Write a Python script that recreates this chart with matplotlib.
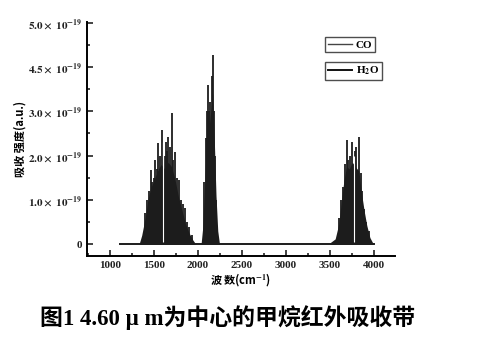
import numpy as np
import matplotlib
matplotlib.use("Agg")
import matplotlib.pyplot as plt
from matplotlib.lines import Line2D
from matplotlib.ticker import MultipleLocator

plt.rcParams['font.family'] = ['Liberation Serif', 'Noto Sans CJK SC', 'DejaVu Sans']
plt.rcParams['mathtext.fontset'] = 'stix'
plt.rcParams['mathtext.default'] = 'bf'

# -----------------------------
# data (wavenumber cm^-1, intensity in tick units)
# -----------------------------
# solid envelope under the lines
env1_x = [1330, 1360, 1400, 1430, 1460, 1500, 1540, 1580, 1620, 1660, 1700, 1740, 1780, 1820, 1860, 1900, 1940, 1975]
env1_y = [0, 0.2, 0.6, 1.0, 1.25, 1.45, 1.65, 1.8, 1.7, 1.85, 1.75, 1.45, 1.05, 0.75, 0.45, 0.25, 0.1, 0]
env2_x = [2035, 2055, 2075, 2095, 2110, 2130, 2150, 2167, 2185, 2205, 2225, 2245]
env2_y = [0, 0.4, 1.3, 2.3, 2.9, 2.7, 3.1, 3.4, 2.4, 1.1, 0.3, 0]
env3_x = [3500, 3560, 3600, 3630, 3660, 3690, 3720, 3755, 3790, 3830, 3860, 3890, 3920, 3955, 3995]
env3_y = [0.03, 0.12, 0.45, 0.95, 1.45, 1.75, 1.7, 1.85, 1.75, 1.65, 1.15, 0.75, 0.42, 0.15, 0]

# individual absorption lines (position, height)
line1_x = [1400, 1420, 1440, 1462, 1480, 1495, 1511, 1530, 1549, 1565, 1587, 1620, 1636, 1650, 1663, 1680,
           1700, 1720, 1739, 1760, 1788, 1810, 1830, 1852, 1875, 1901, 1930]
line1_y = [0.7, 1.0, 1.2, 1.67, 1.4, 1.5, 1.9, 1.7, 2.28, 2.0, 2.58, 2.0, 2.31, 2.1, 2.43, 2.2,
           2.96, 1.9, 2.09, 1.5, 1.45, 1.0, 0.9, 0.81, 0.5, 0.39, 0.2]
line2_x = [2070, 2090, 2100, 2110, 2125, 2140, 2155, 2167, 2180, 2195, 2210]
line2_y = [1.4, 2.4, 3.0, 3.6, 3.0, 3.2, 3.8, 4.28, 3.0, 2.0, 1.0]
line3_x = [3600, 3630, 3650, 3670, 3689, 3710, 3730, 3757, 3780, 3800, 3833, 3850, 3870, 3890, 3910, 3940]
line3_y = [0.6, 1.0, 1.3, 1.8, 2.35, 1.9, 2.0, 2.31, 2.1, 2.2, 2.43, 1.6, 1.2, 0.8, 0.5, 0.3]

# thin white gaps visible in the bands
gap_x = [1605, 3773]
gap_y = [2.3, 2.0]

baseline_x = [1114, 4000]

x_ticks = [1000, 1500, 2000, 2500, 3000, 3500, 4000]
y_ticks = [0, 1, 2, 3, 4, 5]
y_labels = ['0', r'$1.0\times\ 10^{-19}$', r'$2.0\times\ 10^{-19}$', r'$3.0\times\ 10^{-19}$',
            r'$4.5\times\ 10^{-19}$', r'$5.0\times\ 10^{-19}$']

# -----------------------------
# plot
# -----------------------------
fig = plt.figure(figsize=(4.87, 3.42), dpi=100)
ax = fig.add_axes([0.179, 0.251, 0.632, 0.685])

dark = '#1c1c1c'
ax.plot(baseline_x, [0, 0], color=dark, lw=1.4, zorder=1)
for ex, ey in [(env1_x, env1_y), (env2_x, env2_y), (env3_x, env3_y)]:
    ax.fill_between(ex, 0, ey, color=dark, lw=0, zorder=2)
for lx, ly in [(line1_x, line1_y), (line2_x, line2_y), (line3_x, line3_y)]:
    ax.vlines(lx, 0, ly, color=dark, lw=1.3, zorder=3)
ax.vlines(gap_x, 0.05, gap_y, color='white', lw=0.8, zorder=4)

ax.set_xlim(740, 4240)
ax.set_ylim(-0.27, 5.02)
ax.set_xticks(x_ticks)
ax.set_yticks(y_ticks)
ax.set_yticklabels(y_labels)
ax.xaxis.set_minor_locator(MultipleLocator(250))
ax.yaxis.set_minor_locator(MultipleLocator(0.5))
ax.tick_params(which='both', direction='in', labelsize=8, width=1.2, colors='#222')
ax.tick_params(which='major', length=4)
ax.tick_params(which='minor', length=2.5)
for lab in ax.get_xticklabels() + ax.get_yticklabels():
    lab.set_fontweight('bold')
ax.spines['top'].set_visible(False)
ax.spines['right'].set_visible(False)
ax.spines['left'].set_linewidth(1.4)
ax.spines['bottom'].set_linewidth(1.4)

ax.set_xlabel(r'波 数(cm$^{-1}$)', fontsize=8, fontweight='bold', labelpad=1,
              family=['Noto Sans CJK SC', 'DejaVu Sans'])
ax.set_ylabel('吸收 强度(a.u.)', fontsize=8, fontweight='bold', labelpad=1,
              family=['Noto Sans CJK SC', 'DejaVu Sans'])

# legend drawn as two separate boxes, like the scan
leg_kw = dict(frameon=True, fancybox=False, edgecolor='#222', handlelength=2.2,
              handletextpad=0.3, borderpad=0.25, borderaxespad=0, prop={'weight': 'bold', 'size': 8})
leg1 = fig.legend([Line2D([], [], color='#444', lw=1)], ['CO'], loc='upper left',
                  bbox_to_anchor=(325 / 487, 1 - 37 / 342), **leg_kw)
leg2 = fig.legend([Line2D([], [], color='#111', lw=1.4)], [r'H$_2$O'], loc='upper left',
                  bbox_to_anchor=(325 / 487, 1 - 62 / 342), **leg_kw)
for lg in (leg1, leg2):
    lg.get_frame().set_linewidth(1.0)

fig.text(0.467, 1 - 318 / 342, '图1 4.60 μ m为中心的甲烷红外吸收带', ha='center', va='center',
         fontsize=16.5, fontweight='bold', family=['Liberation Serif', 'Noto Sans CJK SC'])

fig.savefig('out.png', dpi=100)
